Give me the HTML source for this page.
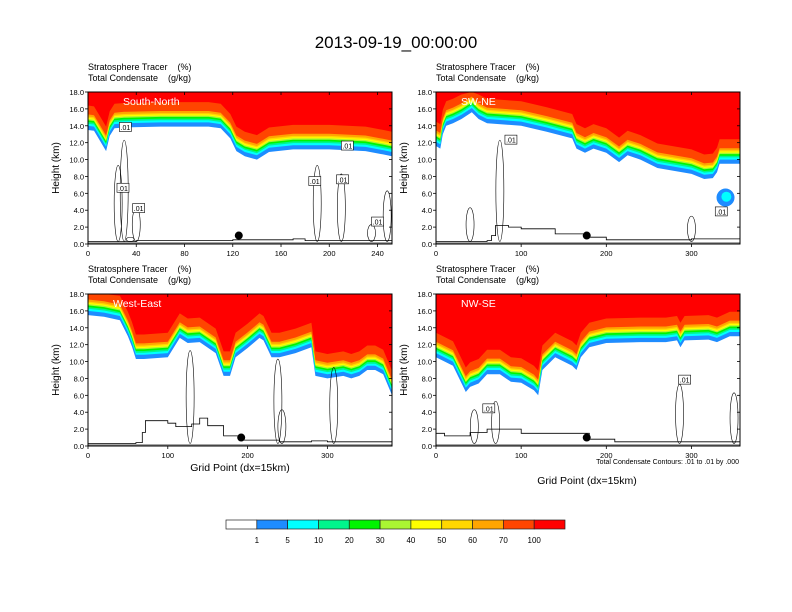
<!DOCTYPE html>
<html><head><meta charset="utf-8">
<style>
body{margin:0;background:#fff;}
svg{display:block;font-family:"Liberation Sans",sans-serif;}
.pre{white-space:pre;}
</style></head>
<body>
<svg id="fig" width="792" height="612" viewBox="0 0 792 612" xmlns="http://www.w3.org/2000/svg">
<rect width="792" height="612" fill="#fff"/>
<text x="396" y="48" font-size="17" text-anchor="middle">2013-09-19_00:00:00</text>
<g id="panels"></g>
<g id="cbar"></g>
<text x="739" y="464" font-size="7" text-anchor="end">Total Condensate Contours: .01 to .01 by .000</text>
<text x="240" y="471" font-size="10.5" text-anchor="middle">Grid Point (dx=15km)</text>
<text x="587" y="484" font-size="10.5" text-anchor="middle">Grid Point (dx=15km)</text>
</svg>
<script>
// ---- data ----
const bandColors=["#1e8cff","#00ffff","#00f58c","#00f500","#aaf532","#ffff00","#ffd700","#ffa500","#ff4500","#ff0000"];
const bandLabels=["1","5","10","20","30","40","50","60","70","100"];
const bandOffsets=[0,0.5,0.75,0.95,1.15,1.3,1.45,1.6,1.85,2.9];
const yTicks=[0,2,4,6,8,10,12,14,16,18];

const p1X=[0,5,10,15,18,22,30,60,100,110,118,123,130,140,150,170,200,230,245,252];
const p1Base=[13.5,13.4,12.2,11.0,12.8,13.7,13.8,13.9,13.9,13.7,12.5,11.0,10.4,10.0,10.9,11.2,11.2,11.0,10.6,10.4];
const p1TX=[0,20,40,70,120,170,180,252];
const p1Terr=[0.3,0.3,0.4,0.4,0.5,0.6,0.4,0.4];
const p1Ticks=[0,40,80,120,160,200,240];

const p2X=[0,5,8,12,20,30,42,50,60,100,130,160,165,175,185,200,215,225,240,260,300,315,325,330,333,345,357];
const p2Base=[11.6,11.3,13.0,14.0,14.3,14.8,15.6,14.8,14.3,14.0,13.3,12.5,11.3,10.8,11.3,10.8,9.7,10.5,10.0,9.0,8.3,7.7,7.8,8.5,9.5,9.5,9.5];
const p2TX=[0,60,65,70,85,100,140,180,200,300,357];
const p2Terr=[0.3,0.4,1.0,2.2,2.0,1.8,1.2,0.8,0.5,0.6,0.6];
const p2Ticks=[0,100,200,300];

const p3X=[0,20,40,50,55,60,70,100,115,125,140,160,170,178,185,200,215,220,230,240,260,280,285,300,320,330,340,350,360,370,381];
const p3Base=[15.5,15.3,14.9,13.0,11.8,10.3,10.3,10.5,12.8,12.2,12.3,11.0,8.3,8.3,10.5,11.6,12.8,12.5,10.5,10.5,11.0,11.7,8.3,8.0,8.3,8.0,8.3,9.0,9.0,8.5,6.0];
const p3TX=[0,60,68,72,100,110,130,140,150,170,190,240,280,300,381];
const p3Terr=[0.3,0.4,1.6,3.0,2.7,2.3,2.6,3.3,2.4,1.2,0.7,0.5,0.6,0.5,0.3];
const p3Ticks=[0,100,200,300];

const p4X=[0,20,35,40,50,60,75,88,100,115,120,125,140,160,165,170,180,200,240,270,283,287,292,320,330,345,357];
const p4Base=[10.5,9.5,6.4,7.0,7.4,8.5,8.5,7.6,7.5,6.6,6.0,9.0,10.5,9.5,9.0,10.5,11.7,12.2,12.3,12.3,12.5,11.7,12.5,12.6,12.3,13.0,13.0];
const p4TX=[0,10,40,60,100,140,180,210,357];
const p4Terr=[1.5,1.2,1.6,2.0,1.5,1.5,0.8,0.5,0.3];
const p4Ticks=[0,100,200,300];

const panels=[
 {name:"south-north",label:"South-North",x0:88,y0:92,w:304,h:152,xmax:252,X:p1X,B:p1Base,TX:p1TX,T:p1Terr,ticks:p1Ticks,dot:125,hy:70,
  contours:[[30,12],[35,0.5],[25,9],[40,4],[190,9],[210,8],[235,2],[248,6]],lbl:[[31,13.8],[29,6.6],[42,4.2],[188,7.4],[211,7.6],[240,2.6],[215,11.6]]},
 {name:"sw-ne",label:"SW-NE",x0:436,y0:92,w:304,h:152,xmax:357,X:p2X,B:p2Base,TX:p2TX,T:p2Terr,ticks:p2Ticks,dot:177,hy:70,
  contours:[[75,12],[40,4],[300,3]],lbl:[[88,12.3],[335,3.8]]},
 {name:"west-east",label:"West-East",x0:88,y0:294,w:304,h:152,xmax:381,X:p3X,B:p3Base,TX:p3TX,T:p3Terr,ticks:p3Ticks,dot:192,hy:272,
  contours:[[128,11],[238,10],[243,4],[308,9]],lbl:[]},
 {name:"nw-se",label:"NW-SE",x0:436,y0:294,w:304,h:152,xmax:357,X:p4X,B:p4Base,TX:p4TX,T:p4Terr,ticks:p4Ticks,dot:177,hy:272,
  contours:[[45,4],[70,5],[286,7],[350,6]],lbl:[[62,4.4],[292,7.8]]}
];
// ---- drawing ----
const NS="http://www.w3.org/2000/svg";
function mk(tag,attrs,parent){const e=document.createElementNS(NS,tag);for(const k in attrs)e.setAttribute(k,attrs[k]);parent.appendChild(e);return e;}
const root=document.getElementById("panels");
panels.forEach((p,pi)=>{
  const g=mk("g",{},root);
  
  
  const sx=v=>p.x0+v/p.xmax*p.w;
  const sy=v=>p.y0+p.h-v/18*p.h;
  const clipId="clip"+pi;
  const cp=mk("clipPath",{id:clipId},g);mk("rect",{x:p.x0,y:p.y0,width:p.w,height:p.h},cp);
  const inner=mk("g",{"clip-path":"url(#"+clipId+")"},g);
  bandColors.forEach((c,bi)=>{
    let d="M"+sx(p.X[0])+","+sy(18);
    p.X.forEach((x,i)=>{d+=" L"+sx(x).toFixed(1)+","+sy(Math.min(18,p.B[i]+bandOffsets[bi])).toFixed(1);});
    d+=" L"+sx(p.X[p.X.length-1])+","+sy(18)+"Z";
    const path=mk("path",{d:d,fill:c},inner);
    
    
  });
  if(pi===1){
    const b1=mk("ellipse",{cx:sx(340),cy:sy(5.5),rx:9,ry:9,fill:"#1e8cff"},inner);
    
    
    mk("ellipse",{cx:sx(341),cy:sy(5.6),rx:5,ry:5,fill:"#00ffff"},inner);
  }
  p.contours.forEach(c=>{
    const e=mk("ellipse",{cx:sx(c[0]),cy:sy(c[1]/2+0.3),rx:4,ry:(c[1]/2)/18*p.h,fill:"none",stroke:"#000","stroke-width":0.6},inner);
    
    
  });
  // terrain (stepped)
  let td="";
  p.TX.forEach((x,i)=>{
    if(i===0){td+="M"+sx(x).toFixed(1)+","+sy(p.T[i]).toFixed(1);}
    else{td+=" L"+sx(x).toFixed(1)+","+sy(p.T[i-1]).toFixed(1)+" L"+sx(x).toFixed(1)+","+sy(p.T[i]).toFixed(1);}
  });
  const tl=mk("path",{d:td,fill:"none",stroke:"#000","stroke-width":0.8},inner);
  
  
  mk("line",{x1:p.x0,x2:p.x0+p.w,y1:p.y0+p.h-1,y2:p.y0+p.h-1,stroke:"#888","stroke-width":1.5},inner);
  p.lbl.forEach(l=>{
    const r=mk("rect",{x:sx(l[0])-6,y:sy(l[1])-5,width:12,height:9,fill:"#fff",stroke:"#000","stroke-width":0.6},inner);
    
    
    mk("text",{x:sx(l[0]),y:sy(l[1])+2.5,"font-size":7,"text-anchor":"middle"},inner).textContent=".01";
  });
  const dot=mk("circle",{cx:sx(p.dot),cy:sy(1.0),r:4,fill:"#000"},g);
  
  
  const fr=mk("rect",{x:p.x0,y:p.y0,width:p.w,height:p.h,fill:"none",stroke:"#000","stroke-width":1},g);
  
  
  yTicks.forEach(v=>{
    mk("line",{x1:p.x0-3,x2:p.x0,y1:sy(v),y2:sy(v),stroke:"#000","stroke-width":0.8},g);
    mk("line",{x1:p.x0+p.w-3,x2:p.x0+p.w,y1:sy(v),y2:sy(v),stroke:"#000","stroke-width":0.8},g);
    const t=mk("text",{x:p.x0-4,y:sy(v)+3,"font-size":7.5,"text-anchor":"end"},g);
    
    
    t.textContent=v.toFixed(1);
  });
  p.ticks.forEach(v=>{
    mk("line",{x1:sx(v),x2:sx(v),y1:p.y0+p.h,y2:p.y0+p.h+3,stroke:"#000","stroke-width":0.8},g);
    mk("line",{x1:sx(v),x2:sx(v),y1:p.y0,y2:p.y0+3,stroke:"#000","stroke-width":0.8},g);
    const t=mk("text",{x:sx(v),y:p.y0+p.h+12,"font-size":7.5,"text-anchor":"middle"},g);
    
    
    t.textContent=v;
  });
  const yt=mk("text",{x:0,y:0,"font-size":10,"text-anchor":"middle",transform:"translate("+(p.x0-29)+","+(p.y0+p.h/2)+") rotate(-90)"},g);
  
  
  yt.textContent="Height (km)";
  const h1=mk("text",{x:p.x0,y:p.hy,"font-size":9,"class":"pre"},g);
  
  
  h1.textContent="Stratosphere Tracer    (%)";
  const h2=mk("text",{x:p.x0,y:p.hy+11,"font-size":9,"class":"pre"},g);
  
  
  h2.textContent="Total Condensate    (g/kg)";
  const pl=mk("text",{x:p.x0+(pi===0?35:25),y:p.y0+13,"font-size":10.5,fill:"#fff"},g);
  
  
  pl.textContent=p.label;
});
// colorbar
const cb=document.getElementById("cbar");
const cbColors=["#ffffff"].concat(bandColors);
const cx0=226,cw=339,ch=9,cy0=520,bw=cw/cbColors.length;
cbColors.forEach((c,i)=>{
  const r=mk("rect",{x:cx0+i*bw,y:cy0,width:bw,height:ch,fill:c,stroke:"#222","stroke-width":0.7},cb);
  
  
});
bandLabels.forEach((l,i)=>{
  const t=mk("text",{x:cx0+(i+1)*bw,y:cy0+23,"font-size":8,"text-anchor":"middle"},cb);
  
  
  t.textContent=l;
});
</script>
</body></html>
